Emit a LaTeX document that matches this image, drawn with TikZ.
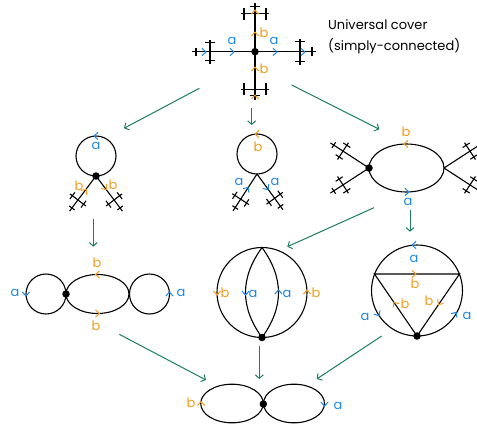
\documentclass[tikz,border=0pt]{standalone}
\usepackage{fontspec}
\setmainfont{Poppins}
\usepackage{tikz}
\usetikzlibrary{arrows.meta}

\definecolor{labblue}{HTML}{1E88E5}
\definecolor{laborange}{HTML}{F39C1F}
\definecolor{mapgreen}{HTML}{1B7F5E}

% small arrowhead on an edge: colour, x, y, direction
\newcommand{\chev}[4]{\draw[#1, line width=1pt, shift={(#2,#3)}, rotate=#4, x=1pt, y=1pt] (-2,3.6) -- (2,0) -- (-2,-3.6);}
% piece of the tree: x, y, direction, length, crossbar position, crossbar half length
\newcommand{\treearm}[6]{%
  \begin{scope}[shift={(#1,#2)}, rotate=#3, x=1pt, y=1pt]
    \pgfmathsetmacro{\armo}{#6-3}
    \pgfmathsetmacro{\armk}{0.42*#6}
    \draw[edge] (0,0) -- (#4,0);
    \draw[edge] (#5,-#6) -- (#5,#6);
    \draw[edge] ({#5-\armk},\armo) -- ({#5+\armk},\armo);
    \draw[edge] ({#5-\armk},-\armo) -- ({#5+\armk},-\armo);
    \draw[edge] ({#4-4},{-0.8*\armk}) -- ({#4-4},{0.8*\armk});
  \end{scope}}

\begin{document}
\begin{tikzpicture}[x=1pt, y=-1pt,
    edge/.style={line width=1.1pt, draw=black},
    map/.style={-{Straight Barb[length=3.5pt,width=8pt]}, line width=1pt, draw=mapgreen},
    vdot/.style={circle, fill=black, inner sep=0pt, minimum size=7.5pt},
    la/.style={text=labblue, font=\fontsize{13}{13}\selectfont, inner sep=0pt},
    lb/.style={text=laborange, font=\fontsize{13}{13}\selectfont, inner sep=0pt},
    title/.style={align=left, font=\fontsize{13}{21}\selectfont, inner sep=0pt}
]
\useasboundingbox (0,0) rectangle (477,429);
\clip (0,0) rectangle (477,429);

% universal cover
\treearm{255}{51.7}{0}{61}{45}{13}
\treearm{255}{51.7}{180}{63}{45}{12}
\treearm{255}{51.7}{90}{49}{38}{14}
\treearm{255}{51.7}{-90}{48}{37.5}{14}
\node[vdot] (cover_base) at (255,51.7) {};
\chev{labblue}{204}{52}{0}
\chev{labblue}{232}{52}{0}
\chev{labblue}{275}{52}{0}
\chev{labblue}{303}{52}{0}
\chev{laborange}{255}{12}{90}
\chev{laborange}{255}{34}{90}
\chev{laborange}{255}{69}{90}
\chev{laborange}{255}{97}{90}
\node[la] (cover_a1) at (232,41) {a};
\node[la] (cover_a2) at (274,41) {a};
\node[lb] (cover_b1) at (264,33) {b};
\node[lb] (cover_b2) at (264,69) {b};
\node[title, anchor=west] (cover_title) at (328,37) {Universal cover\\(simply-connected)};

% middle row
\draw[edge] (96,156) circle[radius=20pt];
\treearm{96}{176}{233}{44}{30}{10}
\treearm{96}{176}{307}{44}{30}{10}
\node[vdot] (ml_base) at (96,176) {};
\chev{labblue}{96}{136}{180}
\chev{laborange}{85}{191}{53}
\chev{laborange}{105}{188}{-53}
\node[la] (ml_a) at (96,146) {a};
\node[lb] (ml_b1) at (79,186) {b};
\node[lb] (ml_b2) at (113,185) {b};

\draw[edge] (257,154) circle[radius=20pt];
\treearm{257}{174}{237}{44}{30}{10}
\treearm{257}{174}{306}{44}{30}{10}
\chev{laborange}{257}{134}{180}
\chev{labblue}{247}{189}{57}
\chev{labblue}{267}{188}{-54}
\node[lb] (mc_b) at (258,147) {b};
\node[la] (mc_a1) at (239,182) {a};
\node[la] (mc_a2) at (275,182) {a};

\draw[edge] (406.5,168) ellipse[x radius=37.5pt, y radius=24pt];
\treearm{369}{168}{147}{46}{31}{10}
\treearm{369}{168}{213}{46}{31}{10}
\treearm{444}{168}{33}{46}{31}{10}
\treearm{444}{168}{-33}{46}{31}{10}
\node[vdot] (mr_base) at (369,168) {};
\chev{laborange}{406}{144}{180}
\chev{labblue}{407}{192}{0}
\node[lb] (mr_b) at (406,132) {b};
\node[la] (mr_a) at (408,202) {a};

% lower row
\draw[edge] (46,294) circle[radius=20pt];
\draw[edge] (97.5,294) ellipse[x radius=31.5pt, y radius=19.5pt];
\draw[edge] (149.5,294) circle[radius=20pt];
\node[vdot] (bl_base) at (66,294) {};
\chev{labblue}{26}{294}{-90}
\chev{labblue}{169.5}{294}{90}
\chev{laborange}{97.5}{274.5}{180}
\chev{laborange}{97.5}{313.5}{0}
\node[la] (bl_a1) at (15,293) {a};
\node[la] (bl_a2) at (181,293) {a};
\node[lb] (bl_b1) at (97,263) {b};
\node[lb] (bl_b2) at (96,326) {b};

\draw[edge] (262,292.5) circle[radius=45pt];
\coordinate (bm_top) at (262,247.5);
\node[vdot] (bm_base) at (262,337.5) {};
\draw[edge] (bm_top) .. controls (240,278) and (240,307) .. (bm_base.center);
\draw[edge] (bm_top) .. controls (284,278) and (284,307) .. (bm_base.center);
\chev{laborange}{217}{293}{-90}
\chev{labblue}{245.5}{293}{-90}
\chev{labblue}{278.5}{292}{90}
\chev{laborange}{307}{292}{90}
\node[lb] (bm_b1) at (225,293) {b};
\node[la] (bm_a1) at (253,294) {a};
\node[la] (bm_a2) at (287,294) {a};
\node[lb] (bm_b2) at (316,293) {b};

\draw[edge] (417,290.5) circle[radius=45.5pt];
\coordinate (br_left) at (374.5,274);
\coordinate (br_right) at (459.5,274);
\node[vdot] (br_base) at (417,336) {};
\draw[edge] (br_left) -- (br_right) -- (br_base.center) -- cycle;
\chev{labblue}{414}{245}{180}
\chev{laborange}{414}{274}{0}
\chev{laborange}{395}{304}{124}
\chev{laborange}{439.5}{303}{236}
\chev{labblue}{378}{314}{-59}
\chev{labblue}{455}{314}{58}
\node[la] (br_a1) at (414,259) {a};
\node[lb] (br_b1) at (415,284) {b};
\node[lb] (br_b2) at (405,304) {b};
\node[lb] (br_b3) at (429,301) {b};
\node[la] (br_a2) at (365,317) {a};
\node[la] (br_a3) at (467,316) {a};

% bouquet
\draw[edge] (232,403.5) ellipse[x radius=31.3pt, y radius=19.3pt];
\draw[edge] (294,403.5) ellipse[x radius=30.5pt, y radius=19.3pt];
\node[vdot] (bb_base) at (263.3,404) {};
\chev{laborange}{201}{403.5}{90}
\chev{labblue}{324.5}{404}{-90}
\node[lb] (bb_b) at (191,403) {b};
\node[la] (bb_a) at (338,406) {a};

% covering maps
\coordinate (cover_sw) at (199.3,88.3);
\coordinate (cover_s) at (251.7,108.3);
\coordinate (cover_se) at (291.7,85);
\coordinate (ml_in) at (124,128.3);
\coordinate (mc_in) at (251.7,125);
\coordinate (mr_in) at (379.3,129.3);
\coordinate (ml_out) at (93.3,219);
\coordinate (mr_out1) at (374,207.7);
\coordinate (mr_out2) at (410,210);
\coordinate (bl_in) at (93.3,246.7);
\coordinate (bm_in) at (287.3,246.7);
\coordinate (br_in) at (410,231.7);
\coordinate (bl_out) at (119.3,334.3);
\coordinate (bm_out) at (259.3,345.7);
\coordinate (br_out) at (381.7,336);
\coordinate (bb_in1) at (206,380);
\coordinate (bb_in2) at (259.3,379);
\coordinate (bb_in3) at (316.7,379);

\draw[map] (cover_sw) -- (ml_in);
\draw[map] (cover_s) -- (mc_in);
\draw[map] (cover_se) -- (mr_in);
\draw[map] (ml_out) -- (bl_in);
\draw[map] (mr_out1) -- (bm_in);
\draw[map] (mr_out2) -- (br_in);
\draw[map] (bl_out) -- (bb_in1);
\draw[map] (bm_out) -- (bb_in2);
\draw[map] (br_out) -- (bb_in3);

\end{tikzpicture}
\end{document}
